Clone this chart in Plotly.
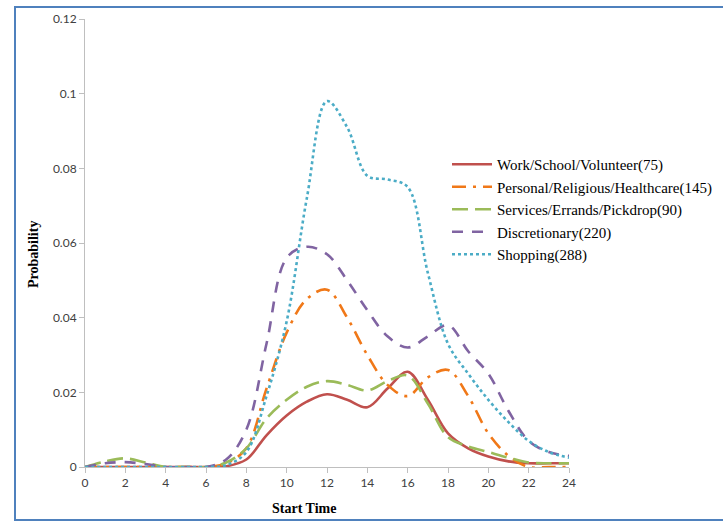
import plotly.graph_objects as go

# Start hour of the trip (0-24)
hours = list(range(25))

# Probability of a trip starting at each hour, by activity purpose
work = [0, 0, 0, 0, 0, 0, 0, 0.0002, 0.002, 0.0085, 0.0138, 0.0175, 0.0195, 0.018,
        0.016, 0.021, 0.0255, 0.018, 0.009, 0.005, 0.0028, 0.0015, 0.001, 0.001, 0.001]
personal = [0, 0, 0, 0, 0, 0, 0, 0.001, 0.005, 0.021, 0.036, 0.045, 0.0475, 0.040,
            0.030, 0.022, 0.019, 0.024, 0.026, 0.019, 0.009, 0.003, 0, 0, 0]
services = [0, 0.0015, 0.0023, 0.0012, 0, 0, 0, 0.0012, 0.005, 0.013, 0.018, 0.0215, 0.023,
            0.022, 0.0205, 0.023, 0.0245, 0.017, 0.008, 0.0055, 0.004, 0.0025, 0.0012, 0.001, 0.001]
discretionary = [0, 0.001, 0.0013, 0.0008, 0, 0, 0, 0.002, 0.010, 0.033, 0.056, 0.059, 0.057,
                 0.050, 0.042, 0.035, 0.032, 0.035, 0.038, 0.031, 0.025, 0.015, 0.007, 0.004, 0.003]
shopping = [0, 0, 0, 0, 0, 0, 0, 0.0005, 0.004, 0.019, 0.039, 0.072, 0.098, 0.091,
            0.078, 0.077, 0.075, 0.052, 0.033, 0.025, 0.018, 0.012, 0.007, 0.004, 0.0025]

series = [
    ("Work/School/Volunteer(75)", work, "#C0504D", "solid"),
    ("Personal/Religious/Healthcare(145)", personal, "#F07818", "14px,7px,3px,7px"),
    ("Services/Errands/Pickdrop(90)", services, "#9BBB59", "16px,7px"),
    ("Discretionary(220)", discretionary, "#8064A2", "11px,9px"),
    ("Shopping(288)", shopping, "#4BACC6", "dot"),
]

fig = go.Figure()
for name, vals, color, dash in series:
    fig.add_trace(go.Scatter(
        x=hours, y=vals, name=name, mode="lines",
        line=dict(color=color, width=2.6, dash=dash, shape="spline", smoothing=1.0),
    ))

axis_font = dict(family="Lato, Open Sans, sans-serif", size=12, color="#404040")
serif = "Liberation Serif"

fig.update_layout(
    width=723, height=525,
    margin=dict(l=85, r=154, t=19, b=58, autoexpand=False),
    paper_bgcolor="white", plot_bgcolor="white",
    showlegend=True,
    legend=dict(
        x=(447 - 85) / 484, y=(467 - 148) / 448, xanchor="left", yanchor="top",
        font=dict(family=serif, size=15, color="black"),
        bgcolor="rgba(0,0,0,0)", tracegroupgap=0, itemwidth=40,
    ),
    xaxis=dict(
        range=[0, 24], tickmode="linear", tick0=0, dtick=2,
        showgrid=False, zeroline=False, showline=True, linecolor="#BFBFBF", linewidth=1,
        ticks="outside", ticklen=5, tickcolor="#BFBFBF", tickfont=axis_font,
    ),
    yaxis=dict(
        range=[0, 0.12], tickmode="linear", tick0=0, dtick=0.02,
        showgrid=False, zeroline=False, showline=True, linecolor="#BFBFBF", linewidth=1,
        ticks="outside", ticklen=5, tickcolor="#BFBFBF", tickfont=axis_font,
    ),
    annotations=[
        dict(text="<b>Start Time</b>", xref="paper", yref="paper",
             x=(304 - 85) / 484, y=-0.092, xanchor="center", yanchor="middle",
             showarrow=False, font=dict(family=serif, size=14, color="black")),
        dict(text="<b>Probability</b>", xref="paper", yref="paper",
             x=(33 - 85) / 484, y=(467 - 255) / 448, xanchor="center", yanchor="middle",
             textangle=-90, showarrow=False, font=dict(family=serif, size=14, color="black")),
    ],
    shapes=[
        dict(type="rect", xref="paper", yref="paper", layer="below",
             x0=(15 - 85) / 484, x1=(740 - 85) / 484,
             y0=(467 - 520) / 448, y1=(467 - 7) / 448,
             line=dict(color="#4F81BD", width=2), fillcolor="rgba(0,0,0,0)"),
    ],
)

fig.write_html("out.html")
